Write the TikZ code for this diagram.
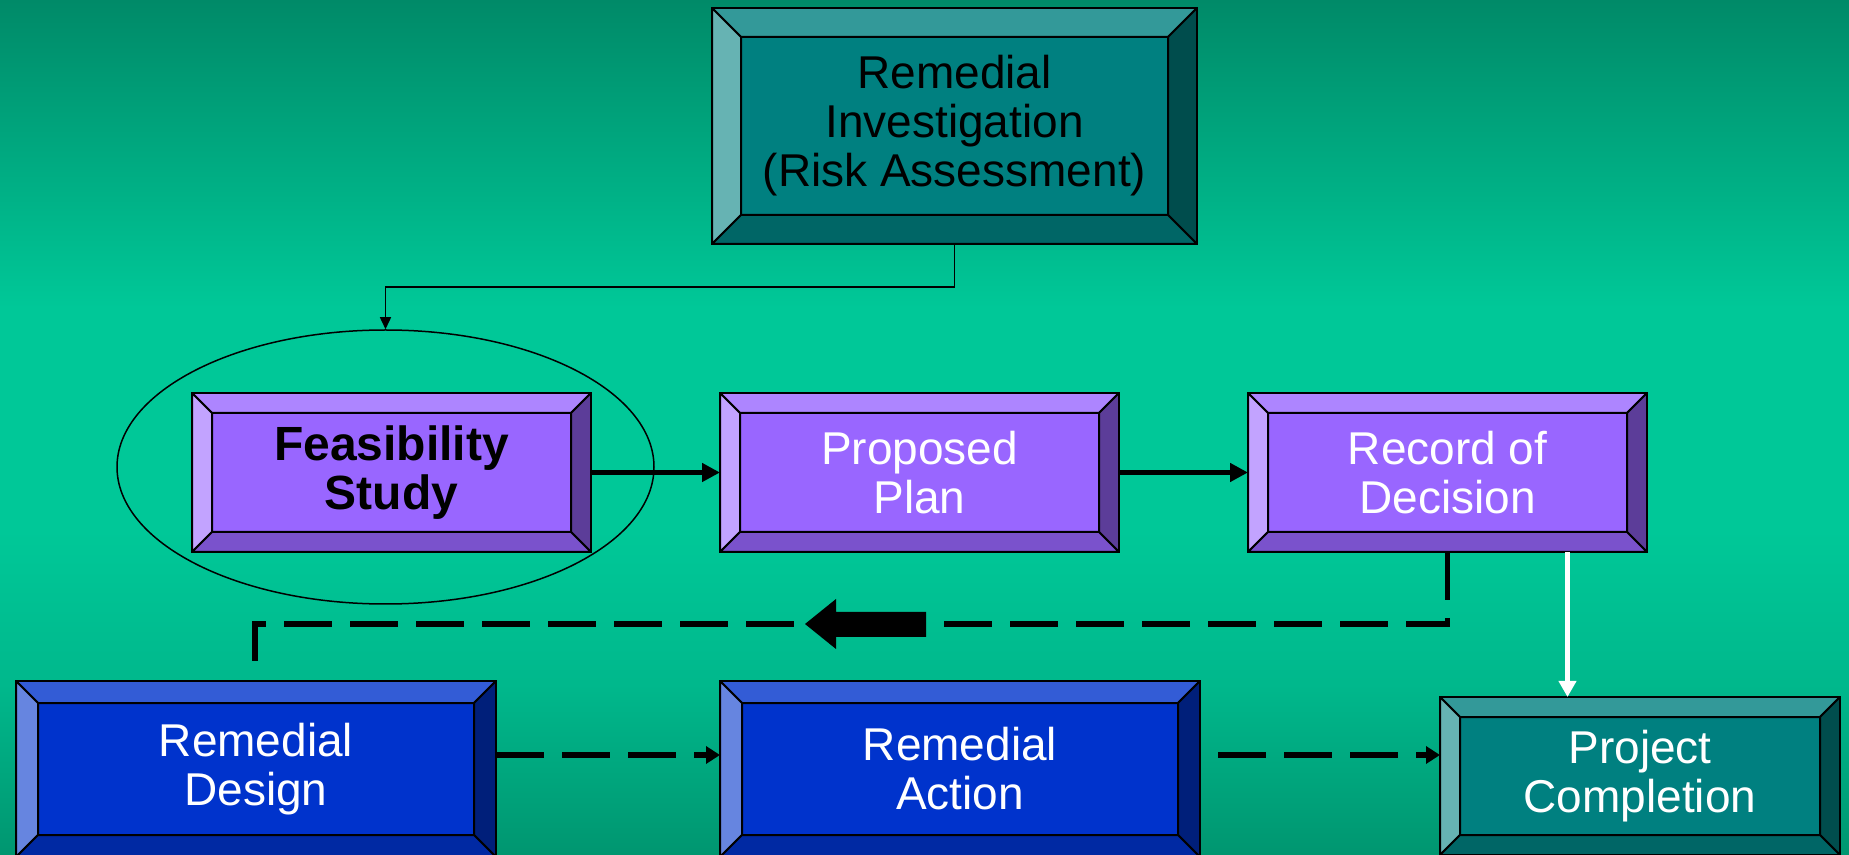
\documentclass[tikz,border=0pt]{standalone}
\usepackage{fontspec}
\setmainfont{Liberation Sans}
\usetikzlibrary{arrows.meta, positioning, shapes.geometric}

\definecolor{bgtop}{RGB}{0,138,104}
\definecolor{bgmid}{RGB}{0,200,152}
\definecolor{bglow}{RGB}{0,184,140}
\definecolor{bgbot}{RGB}{0,150,112}
% visible part of the shading runs from 25bp (bottom) to 75bp (top)
\pgfdeclareverticalshading{slidebg}{100bp}{color(0bp)=(bgbot); color(25bp)=(bgbot); color(35bp)=(bglow); color(44bp)=(bgmid); color(57bp)=(bgmid); color(75bp)=(bgtop); color(100bp)=(bgtop)}

\definecolor{tealface}{RGB}{0,128,128}
\definecolor{tealtop}{RGB}{51,153,153}
\definecolor{tealleft}{RGB}{102,179,179}
\definecolor{tealright}{RGB}{0,77,77}
\definecolor{tealbot}{RGB}{0,102,102}
\definecolor{lilacface}{RGB}{153,102,255}
\definecolor{lilactop}{RGB}{173,133,255}
\definecolor{lilacleft}{RGB}{194,163,255}
\definecolor{lilacright}{RGB}{92,61,153}
\definecolor{lilacbot}{RGB}{122,82,204}
\definecolor{navyface}{RGB}{0,51,204}
\definecolor{navytop}{RGB}{51,92,214}
\definecolor{navyleft}{RGB}{102,133,224}
\definecolor{navyright}{RGB}{0,31,122}
\definecolor{navybot}{RGB}{0,41,163}

\tikzset{
  bevelsize/.store in=\bvl, bevelsize=10pt,
  bevelbox/.style n args={5}{draw, line width=1pt, fill=#1, inner sep=0pt, outer sep=0pt, align=center,
    path picture={
      \path (path picture bounding box.north west) coordinate (o1)
            (path picture bounding box.north east) coordinate (o2)
            (path picture bounding box.south east) coordinate (o3)
            (path picture bounding box.south west) coordinate (o4);
      \path (o1) ++(\bvl,-\bvl) coordinate (i1)
            (o2) ++(-\bvl,-\bvl) coordinate (i2)
            (o3) ++(-\bvl,\bvl) coordinate (i3)
            (o4) ++(\bvl,\bvl) coordinate (i4);
      \filldraw[fill=#2] (o1) -- (o2) -- (i2) -- (i1) -- cycle;
      \filldraw[fill=#3] (o1) -- (i1) -- (i4) -- (o4) -- cycle;
      \filldraw[fill=#4] (o2) -- (o3) -- (i3) -- (i2) -- cycle;
      \filldraw[fill=#5] (o4) -- (i4) -- (i3) -- (o3) -- cycle;
    }},
  tealbox/.style={bevelbox={tealface}{tealtop}{tealleft}{tealright}{tealbot}},
  lilacbox/.style={bevelbox={lilacface}{lilactop}{lilacleft}{lilacright}{lilacbot}},
  navybox/.style={bevelbox={navyface}{navytop}{navyleft}{navyright}{navybot}}
}

\begin{document}
\begin{tikzpicture}[x=0.5pt, y=-0.5pt,
  boxtext/.style={font=\fontsize{23}{24.5}\selectfont},
  link/.style={line width=2.75pt, -{Triangle[length=9pt, width=9pt]}},
  thinlink/.style={line width=0.75pt, -{Triangle[length=6pt, width=5.5pt]}},
  whitelink/.style={draw=white, line width=2.5pt, -{Triangle[length=8pt, width=8.5pt]}},
  dashlink/.style={line width=2.75pt, dash pattern=on 24pt off 9pt, -{Triangle[length=7pt, width=8.5pt]}},
  feedback/.style={line width=2.75pt, dash pattern=on 24pt off 9pt}]

\useasboundingbox (0,0) rectangle (1849,855);
\fill[shading=slidebg] (0,0) rectangle (1849,855);

% top box
\node[tealbox, boxtext, bevelsize=14.5pt, minimum width=242.5pt, minimum height=118pt]
      (ri) at (954.5,126) {Remedial\\Investigation\\(Risk Assessment)};

% middle row
\begin{scope}[every node/.style={lilacbox, boxtext, minimum width=199.5pt, minimum height=79.5pt}]
\node[font=\fontsize{24}{24.5}\selectfont\bfseries] (fs) at (391.5,472.5) {Feasibility\\Study};
\node[text=white, right=64.5pt of fs]  (pp)  {Proposed\\Plan};
\node[text=white, right=64.5pt of pp]  (rod) {Record of\\Decision};
\end{scope}

% bottom row
\begin{scope}[every node/.style={boxtext, text=white, bevelsize=11pt, minimum width=240pt, minimum height=88pt}]
\node[navybox] (rd) at (256,769) {Remedial\\Design};
\node[navybox, right=112pt of rd] (ra) {Remedial\\Action};
\node[tealbox, bevelsize=10pt, minimum width=200pt, minimum height=79pt] (pc) at (1640,776) {Project\\Completion};
\end{scope}

\node[draw, ellipse, line width=0.75pt, inner sep=0pt, minimum width=268.5pt, minimum height=137pt]
      (ring) at (385.5,467) {};

\coordinate (fbend) at (255,663);
\coordinate (wstart) at ([xshift=159.75pt]rod.south west);
\coordinate (raout) at ([xshift=9pt,yshift=7pt]ra.east);

\draw[thinlink] (ri.south) -- ++(0,43) -| (ring.north);
\draw[link] (fs) -- (pp);
\draw[link] (pp) -- (rod);
\draw[feedback] (rod.south) -- ++(0,72) -| (fbend);
\fill (805,624) -- (836,599) -- (836,612) -- (926,612) -- (926,637) -- (836,637) -- (836,649) -- cycle;
\draw[whitelink] (wstart) -- (wstart |- pc.north);
\draw[dashlink] ([yshift=7pt]rd.east) -- ([yshift=7pt]ra.west);
\draw[dashlink] (raout) -- (raout -| pc.west);

\end{tikzpicture}
\end{document}
